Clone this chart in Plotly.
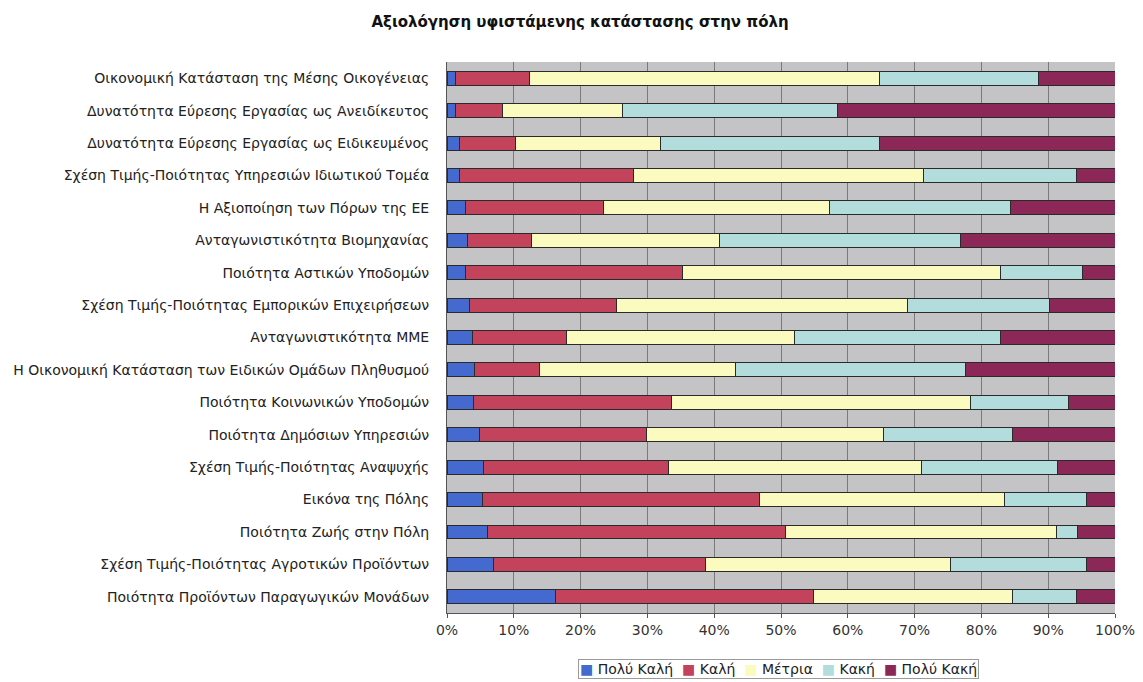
#----Librairies----
import plotly.graph_objects as go

#----Données----
categories = [
    "Οικονομική Κατάσταση της Μέσης Οικογένειας",
    "Δυνατότητα Εύρεσης Εργασίας ως Ανειδίκευτος",
    "Δυνατότητα Εύρεσης Εργασίας ως Ειδικευμένος",
    "Σχέση Τιμής-Ποιότητας Υπηρεσιών Ιδιωτικού Τομέα",
    "Η Αξιοποίηση των Πόρων της ΕΕ",
    "Ανταγωνιστικότητα Βιομηχανίας",
    "Ποιότητα Αστικών Υποδομών",
    "Σχέση Τιμής-Ποιότητας Εμπορικών Επιχειρήσεων",
    "Ανταγωνιστικότητα ΜΜΕ",
    "Η Οικονομική Κατάσταση των Ειδικών Ομάδων Πληθυσμού",
    "Ποιότητα Κοινωνικών Υποδομών",
    "Ποιότητα Δημόσιων Υπηρεσιών",
    "Σχέση Τιμής-Ποιότητας Αναψυχής",
    "Εικόνα της Πόλης",
    "Ποιότητα Ζωής στην Πόλη",
    "Σχέση Τιμής-Ποιότητας Αγροτικών Προϊόντων",
    "Ποιότητα Προϊόντων Παραγωγικών Μονάδων",
]

poly_kali = [1.3, 1.2, 1.8, 1.9, 2.7, 3.0, 2.7, 3.4, 3.8, 4.1, 3.9, 4.8, 5.4, 5.3, 6.1, 6.9, 16.2]
kali = [11.1, 7.1, 8.4, 26.0, 20.7, 9.7, 32.5, 22.0, 14.1, 9.8, 29.7, 25.1, 27.7, 41.5, 44.6, 31.8, 38.7]
metria = [52.4, 18.0, 21.8, 43.4, 33.9, 28.1, 47.6, 43.5, 34.1, 29.3, 44.7, 35.4, 38.0, 36.6, 40.5, 36.6, 29.7]
kaki = [23.8, 32.1, 32.8, 23.0, 27.0, 36.0, 12.3, 21.3, 30.8, 34.4, 14.7, 19.3, 20.3, 12.3, 3.2, 20.4, 9.7]
poly_kaki = [11.4, 41.6, 35.2, 5.7, 15.7, 23.2, 4.9, 9.8, 17.2, 22.4, 7.0, 15.4, 8.6, 4.3, 5.6, 4.3, 5.7]

series = [
    ("Πολύ Καλή", poly_kali, "#4469cf"),
    ("Καλή", kali, "#c2435b"),
    ("Μέτρια", metria, "#fbfbc0"),
    ("Κακή", kaki, "#b3dcdc"),
    ("Πολύ Κακή", poly_kaki, "#8c2857"),
]

#----Figure----
# la page html garde une marge de 8px autour du graphique -> taille réduite d'autant
fig = go.Figure()
for name, values, color in series:
    fig.add_trace(go.Bar(
        y=categories, x=values, name=name, orientation="h",
        marker=dict(color=color, line=dict(color="#2a2a2a", width=1)),
        showlegend=False,
    ))

# légende compacte façon Excel (carrés colorés + texte)
legend_text = "  ".join(
    f"<span style='color:{color}'>■</span> {name}" for name, _, color in series
)
fig.add_annotation(
    text=legend_text, showarrow=False,
    xref="paper", yref="paper", x=0.497, xanchor="center", y=-0.083, yanchor="top",
    bordercolor="#9a9a9a", borderwidth=1, borderpad=1, bgcolor="white",
    font=dict(size=14, color="#222222"),
)

fig.update_layout(
    barmode="stack",
    bargap=0.57,
    width=1135, height=674,
    margin=dict(l=439, r=28, t=54, b=69),
    paper_bgcolor="white",
    plot_bgcolor="#c4c4c7",
    font=dict(family="DejaVu Sans", size=14, color="#222222"),
    title=dict(text="<b>Αξιολόγηση υφιστάμενης κατάστασης στην πόλη</b>",
               x=0.504, xref="container", xanchor="center", y=0.979, yanchor="middle",
               font=dict(size=15, color="#111111")),
    showlegend=False,
)

fig.update_xaxes(
    range=[0, 100], dtick=10, ticksuffix="%",
    showgrid=True, gridcolor="#7a7a7a", gridwidth=1,
    showline=True, linecolor="#555555", ticks="outside", ticklen=4,
    tickcolor="#555555", tickfont=dict(size=14, color="#333333"),
    zeroline=False, fixedrange=True, automargin=False,
)
fig.update_yaxes(
    autorange="reversed", automargin=False,
    showline=True, linecolor="#555555", ticks="", ticklabelstandoff=14,
    tickfont=dict(size=14, color="#222222"),
)

fig.write_html("out.html")
